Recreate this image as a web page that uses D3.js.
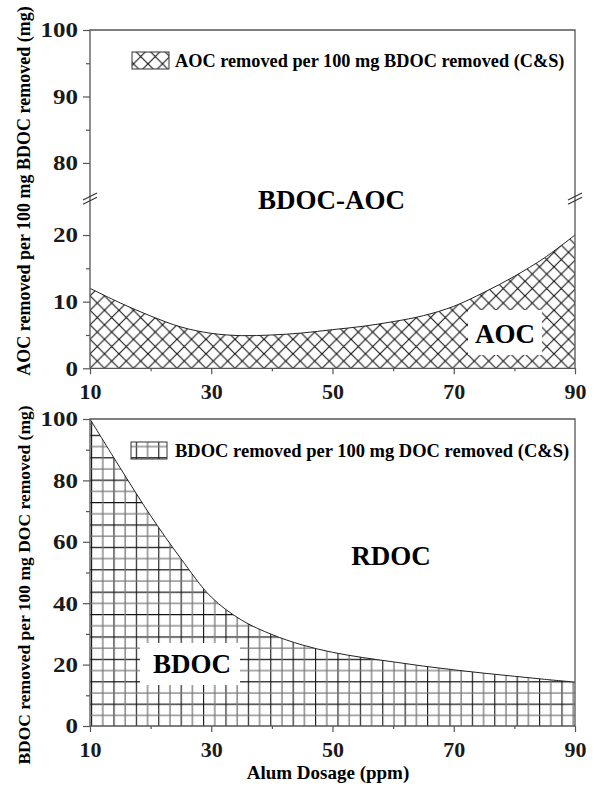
<!DOCTYPE html>
<html>
<head>
<meta charset="utf-8">
<script src="https://cdn.jsdelivr.net/npm/d3@7"></script>
<style>
  body { margin: 0; background: #fff; }
  svg { display: block; font-family: "Liberation Serif", "Times New Roman", serif; font-weight: bold; }
  .axis path.domain { display: none; }
  .axis line { stroke: #555; stroke-width: 1.2; }
  .axis text { fill: #1a1a1a; font-family: "Liberation Serif", "Times New Roman", serif; font-weight: bold; }
</style>
</head>
<body>
<svg></svg>
<script>
var width = 594;
var height = 788;

// alum dosage (ppm)
var dosage = [10, 15, 20, 25, 30, 35, 40, 45, 50, 55, 60, 65, 70, 75, 80, 85, 90];
// AOC removed per 100 mg BDOC removed (C&S)
var aocPerBdoc = [12.0, 9.8, 7.85, 6.2, 5.25, 4.9, 5.0, 5.3, 5.8, 6.3, 7.0, 7.9, 9.3, 11.4, 13.8, 16.6, 20.0];
// BDOC removed per 100 mg DOC removed (C&S)
var bdocPerDoc = [100, 84, 68.5, 54.5, 42, 34.5, 29.8, 26.4, 24, 22.3, 20.9, 19.5, 18.3, 17.2, 16.2, 15.2, 14.3];

var xTicks = [10, 30, 50, 70, 90];
var xMinor = [20, 40, 60, 80];
var topHiTicks = [80, 90, 100], topHiMinor = [85, 95];
var topLoTicks = [0, 10, 20], topLoMinor = [5, 15];
var botTicks = [0, 20, 40, 60, 80, 100], botMinor = [10, 30, 50, 70, 90];

var svg = d3.select("svg")
  .attr("width", width)
  .attr("height", height);

var x = d3.scaleLinear().domain([10, 90]).range([90, 575]);
var yLo = d3.scaleLinear().domain([0, 25]).range([368.3, 201.7]);
var yHi = d3.scaleLinear().domain([75, 100]).range([196.2, 30]);
var yB = d3.scaleLinear().domain([0, 100]).range([726, 419]);

var defs = svg.append("defs");
var hp = 14.5;
defs.append("pattern")
  .attr("id", "xhatch")
  .attr("patternUnits", "userSpaceOnUse")
  .attr("x", 90).attr("y", 368.3)
  .attr("width", hp).attr("height", hp)
  .append("path")
  .attr("d", "M0,0L" + hp + "," + hp + "M0," + hp + "L" + hp + ",0")
  .attr("stroke", "#111").attr("stroke-width", 1.1).attr("fill", "none");

var gp = 22.4;
var grid = defs.append("pattern")
  .attr("id", "grid")
  .attr("patternUnits", "userSpaceOnUse")
  .attr("x", 91).attr("y", 726)
  .attr("width", gp).attr("height", gp);
grid.append("path").attr("d", "M0.6,0V" + gp + "M0," + 0.6 + "H" + gp)
  .attr("stroke", "#111").attr("stroke-width", 1.1);
grid.append("path").attr("d", "M" + (gp / 2 + 0.6) + ",0V" + gp + "M0," + (gp / 2 + 0.6) + "H" + gp)
  .attr("stroke", "#777").attr("stroke-width", 1.3);

var pts = function(ys) { return dosage.map(function(d, i) { return {x: d, y: ys[i]}; }); };

// ---------- top panel ----------
var areaTop = d3.area()
  .x(function(d) { return x(d.x); })
  .y0(yLo(0))
  .y1(function(d) { return yLo(d.y); })
  .curve(d3.curveCatmullRom.alpha(0.5));
svg.append("path").datum(pts(aocPerBdoc))
  .attr("d", areaTop).attr("fill", "url(#xhatch)");
svg.append("path").datum(pts(aocPerBdoc))
  .attr("d", areaTop.lineY1()).attr("fill", "none").attr("stroke", "#222").attr("stroke-width", 1);

// frame
svg.append("path")
  .attr("d", "M" + x(10) + "," + yLo(0) + "V" + yHi(100) + "H" + x(90) + "V" + yLo(0) + "H" + x(10))
  .attr("fill", "none").attr("stroke", "#555").attr("stroke-width", 1.3);

// axis break marks
[x(10), x(90)].forEach(function(bx) {
  [196.5, 200.8].forEach(function(by) {
    svg.append("line")
      .attr("x1", bx - 7).attr("y1", by + 3.5).attr("x2", bx + 7).attr("y2", by - 3.5)
      .attr("stroke", "#333").attr("stroke-width", 1.1);
  });
});

function styleY(g) {
  g.selectAll("text")
    .attr("x", 0).attr("dy", "0.34em")
    .attr("transform", "translate(-12,0) scale(1.25,1)")
    .style("font-size", "20px");
}
function styleX(g) {
  g.selectAll("text")
    .attr("y", 30.5).attr("dy", 0)
    .style("font-size", "22px");
}

svg.append("g").attr("class", "axis").attr("transform", "translate(90,0)")
  .call(d3.axisLeft(yHi).tickValues(topHiTicks).tickSize(7).tickSizeOuter(0)).call(styleY);
svg.append("g").attr("class", "axis").attr("transform", "translate(90,0)")
  .call(d3.axisLeft(yHi).tickValues(topHiMinor).tickSize(4).tickFormat(""));
svg.append("g").attr("class", "axis").attr("transform", "translate(90,0)")
  .call(d3.axisLeft(yLo).tickValues(topLoTicks).tickSize(7).tickSizeOuter(0)).call(styleY);
svg.append("g").attr("class", "axis").attr("transform", "translate(90,0)")
  .call(d3.axisLeft(yLo).tickValues(topLoMinor).tickSize(4).tickFormat(""));
svg.append("g").attr("class", "axis").attr("transform", "translate(0," + yLo(0) + ")")
  .call(d3.axisBottom(x).tickValues(xTicks).tickSize(6).tickSizeOuter(0)).call(styleX);
svg.append("g").attr("class", "axis").attr("transform", "translate(0," + yLo(0) + ")")
  .call(d3.axisBottom(x).tickValues(xMinor).tickSize(3).tickFormat(""));

// legend top
svg.append("rect").attr("x", 132).attr("y", 52).attr("width", 37).attr("height", 17)
  .attr("fill", "url(#xhatch)").attr("stroke", "#333").attr("stroke-width", 1);
svg.append("text").attr("x", 175).attr("y", 67).style("font-size", "18.3px")
  .text("AOC removed per 100 mg BDOC removed (C&S)");

// region labels top
svg.append("text").attr("x", 331.5).attr("y", 209).attr("text-anchor", "middle")
  .style("font-size", "27px").text("BDOC-AOC");
svg.append("rect").attr("x", 468).attr("y", 310).attr("width", 74).attr("height", 45).attr("fill", "#fff");
svg.append("text").attr("x", 505).attr("y", 343).attr("text-anchor", "middle")
  .style("font-size", "27px").text("AOC");

svg.append("text")
  .attr("transform", "translate(30,191) rotate(-90)")
  .attr("text-anchor", "middle").style("font-size", "18px")
  .text("AOC removed per 100 mg BDOC removed (mg)");

// ---------- bottom panel ----------
var areaBot = d3.area()
  .x(function(d) { return x(d.x); })
  .y0(yB(0))
  .y1(function(d) { return yB(d.y); })
  .curve(d3.curveCatmullRom.alpha(0.5));
svg.append("path").datum(pts(bdocPerDoc))
  .attr("d", areaBot).attr("fill", "url(#grid)");
svg.append("path").datum(pts(bdocPerDoc))
  .attr("d", areaBot.lineY1()).attr("fill", "none").attr("stroke", "#222").attr("stroke-width", 1);

svg.append("path")
  .attr("d", "M" + x(10) + "," + yB(0) + "V" + yB(100) + "H" + x(90) + "V" + yB(0) + "H" + x(10))
  .attr("fill", "none").attr("stroke", "#555").attr("stroke-width", 1.3);

svg.append("g").attr("class", "axis").attr("transform", "translate(90,0)")
  .call(d3.axisLeft(yB).tickValues(botTicks).tickSize(7).tickSizeOuter(0)).call(styleY);
svg.append("g").attr("class", "axis").attr("transform", "translate(90,0)")
  .call(d3.axisLeft(yB).tickValues(botMinor).tickSize(4).tickFormat(""));
svg.append("g").attr("class", "axis").attr("transform", "translate(0," + yB(0) + ")")
  .call(d3.axisBottom(x).tickValues(xTicks).tickSize(6).tickSizeOuter(0)).call(styleX);
svg.append("g").attr("class", "axis").attr("transform", "translate(0," + yB(0) + ")")
  .call(d3.axisBottom(x).tickValues(xMinor).tickSize(3).tickFormat(""));

// legend bottom
svg.append("rect").attr("x", 131).attr("y", 442).attr("width", 36).attr("height", 17)
  .attr("fill", "url(#grid)").attr("stroke", "#333").attr("stroke-width", 1);
svg.append("text").attr("x", 175).attr("y", 457).style("font-size", "18.5px")
  .text("BDOC removed per 100 mg DOC removed (C&S)");

svg.append("text").attr("x", 391).attr("y", 565).attr("text-anchor", "middle")
  .style("font-size", "27px").text("RDOC");
svg.append("rect").attr("x", 140).attr("y", 643).attr("width", 100).attr("height", 42).attr("fill", "#fff");
svg.append("text").attr("x", 192).attr("y", 673).attr("text-anchor", "middle")
  .style("font-size", "27px").text("BDOC");

svg.append("text")
  .attr("transform", "translate(30,585) rotate(-90)")
  .attr("text-anchor", "middle").style("font-size", "17.5px")
  .text("BDOC removed per 100 mg DOC removed (mg)");

svg.append("text").attr("x", 328).attr("y", 779).attr("text-anchor", "middle")
  .style("font-size", "19px").text("Alum Dosage (ppm)");
</script>
</body>
</html>
